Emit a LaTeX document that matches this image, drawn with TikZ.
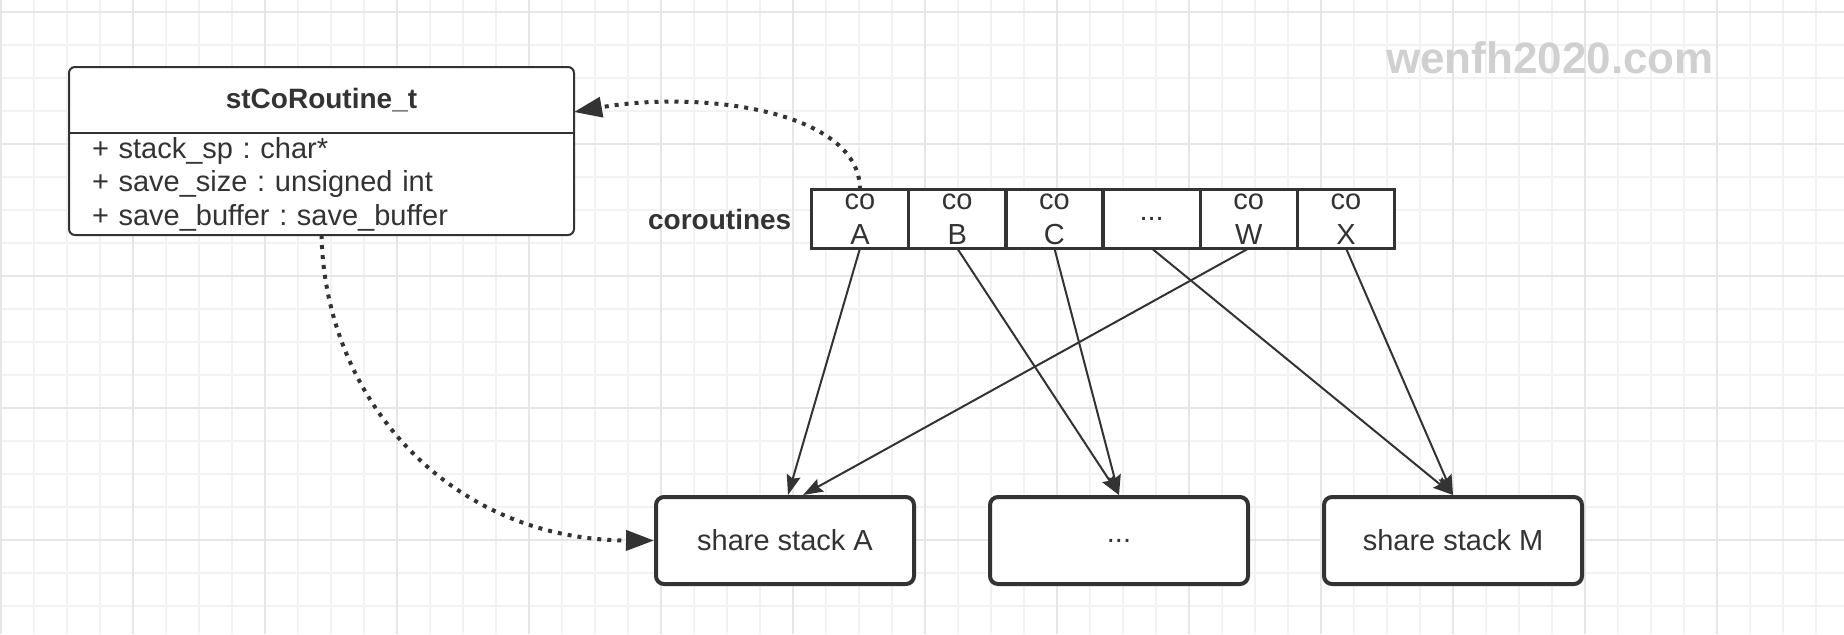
\documentclass[tikz,border=0pt]{standalone}
\usepackage{fontspec}
\setmainfont{Liberation Sans}
\usetikzlibrary{positioning,arrows.meta}
\pgfdeclarelayer{background}
\pgfsetlayers{background,main}
\definecolor{inkgray}{HTML}{333333}
\definecolor{gridminor}{HTML}{F2F2F2}
\definecolor{gridmajor}{HTML}{E6E6E6}
\definecolor{markgray}{HTML}{D0D0D0}
\frenchspacing

\begin{document}
\begin{tikzpicture}[x=0.5pt,y=-0.5pt,
                    umlhead/.style={minimum width=252.5pt, minimum height=33pt, inner sep=0pt, outer sep=0pt,
                      font=\bfseries\fontsize{14}{17}\selectfont, text=inkgray},
                    umlbody/.style={text width=229.5pt, inner xsep=11.5pt, inner ysep=0pt, outer sep=0pt,
                      minimum height=51pt, align=left, font=\fontsize{14.5}{16.75}\selectfont, text=inkgray},
                    cell/.style={draw=inkgray, fill=white, line width=1.7pt, minimum width=48.6pt,
                      minimum height=29.3pt, inner sep=0pt, align=center, text height=25pt, text depth=0pt,
                      font=\fontsize{14.5}{17.4}\selectfont, text=inkgray},
                    dotcell/.style={cell, text height=, text depth=},
                    stack/.style={draw=inkgray, fill=white, line width=2pt, rounded corners=4pt,
                      minimum width=129pt, minimum height=43.5pt, font=\fontsize{14.5}{17}\selectfont, text=inkgray},
                    link/.style={draw=inkgray, line width=1pt, -{Stealth[length=10pt,width=7pt,inset=1.5pt]}},
                    ref/.style={draw=inkgray, line width=2pt, dash pattern=on 2pt off 3pt,
                      -{Triangle[length=14pt,width=10pt]}}]

                  \useasboundingbox (0,0) rectangle (1844,634);

                  % grid paper
                  \begin{pgfonlayer}{background}
                    \foreach \gx in {1,34,...,1844} \draw[gridminor, line width=0.8pt] (\gx,0) -- (\gx,634);
                    \foreach \gy in {12,45,...,634} \draw[gridminor, line width=0.8pt] (0,\gy) -- (1844,\gy);
                    \foreach \gx in {1,133,...,1844} \draw[gridmajor, line width=1pt] (\gx,0) -- (\gx,634);
                    \foreach \gy in {12,144,...,634} \draw[gridmajor, line width=1pt] (0,\gy) -- (1844,\gy);
                  \end{pgfonlayer}

                  \node (mark) [font=\bfseries\fontsize{22}{26}\selectfont, text=markgray] at (1550,58) {wenfh2020.com};

                  % the struct
                  \node (umlHead) [umlhead] at (321.5,100) {stCoRoutine\_t};
                  \node (umlBody) [umlbody, below=0pt of umlHead]
                    {+ stack\_sp : char*\\+ save\_size : unsigned int\\+ save\_buffer : save\_buffer};
                  \begin{pgfonlayer}{background}
                    \draw[inkgray, line width=1pt, fill=white, rounded corners=3pt]
                      (umlHead.north west) rectangle (umlBody.south east);
                  \end{pgfonlayer}
                  \draw[inkgray, line width=1pt] (umlHead.south west) -- (umlHead.south east);

                  \matrix (cos) [column sep=-1.7pt, inner sep=0pt, outer sep=0pt] at (1103,219) {
                    % First row: coroutine slots
                    \node (coA) [cell] {co\\A};
                    & \node (coB) [cell] {co\\B};
                    & \node (coC) [cell] {co\\C};
                    & \node (coDots) [dotcell] {...};
                    & \node (coW) [cell] {co\\W};
                    & \node (coX) [cell] {co\\X};
                    \\ };
                  \node (coLabel) [left=9pt of cos, inner sep=0pt, font=\bfseries\fontsize{14}{17}\selectfont,
                    text=inkgray] {coroutines};

                  % shared stacks
                  \node (shA) [stack] at (785,540.5) {share stack A};
                  \node (shMid) [stack, right=36pt of shA] {...};
                  \node (shM) [stack, right=36pt of shMid] {share stack M};

                  \draw [link] (coA.south) -- ([xshift=1.5pt]shA.north);
                  \draw [link] (coW.south) -- ([xshift=9pt]shA.north);
                  \draw [link] (coB.south) -- (shMid.north);
                  \draw [link] (coC.south) -- (shMid.north);
                  \draw [link] (coDots.south) -- (shM.north);
                  \draw [link] (coX.south) -- (shM.north);

                  \draw [ref] (coA.north) .. controls (860,110) and (700,90) .. ([yshift=-6pt]umlHead.east);
                  \draw [ref] (umlBody.south) .. controls (325,400) and (450,540) .. (shA.west);
                \end{tikzpicture}
\end{document}
